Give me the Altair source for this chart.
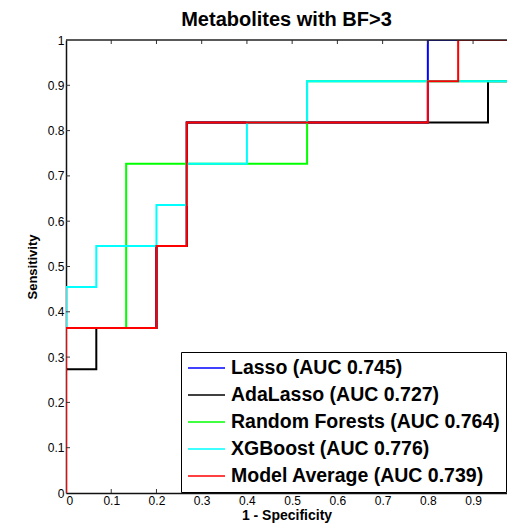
import altair as alt
import pandas as pd

chart_title = "Metabolites with BF>3"
x_title = "1 - Specificity"
y_title = "Sensitivity"

models = [
    "Lasso (AUC 0.745)",
    "AdaLasso (AUC 0.727)",
    "Random Forests (AUC 0.764)",
    "XGBoost (AUC 0.776)",
    "Model Average (AUC 0.739)",
]
colors = ["#0000FF", "#000000", "#00FF00", "#00FFFF", "#FF0000"]

lasso_fpr = [0, 0, 0.2, 0.2, 0.267, 0.267, 0.8, 0.8, 1.0]
lasso_tpr = [0, 0.364, 0.364, 0.545, 0.545, 0.818, 0.818, 1.0, 1.0]
ada_fpr = [0, 0, 0.067, 0.067, 0.2, 0.2, 0.267, 0.267, 0.933, 0.933, 1.0, 1.0]
ada_tpr = [0, 0.273, 0.273, 0.364, 0.364, 0.545, 0.545, 0.818, 0.818, 0.909, 0.909, 1.0]
rf_fpr = [0, 0, 0.133, 0.133, 0.533, 0.533, 1.0, 1.0]
rf_tpr = [0, 0.364, 0.364, 0.727, 0.727, 0.909, 0.909, 1.0]
xgb_fpr = [0, 0, 0.067, 0.067, 0.2, 0.2, 0.267, 0.267, 0.4, 0.4, 0.533, 0.533, 1.0, 1.0]
xgb_tpr = [0, 0.455, 0.455, 0.545, 0.545, 0.636, 0.636, 0.727, 0.727, 0.818, 0.818, 0.909, 0.909, 1.0]
avg_fpr = [0, 0, 0.2, 0.2, 0.267, 0.267, 0.8, 0.8, 0.867, 0.867, 1.0]
avg_tpr = [0, 0.364, 0.364, 0.545, 0.545, 0.818, 0.818, 0.909, 0.909, 1.0, 1.0]

x_ticks = [0, 0.1, 0.2, 0.3, 0.4, 0.5, 0.6, 0.7, 0.8, 0.9]
y_ticks = [0, 0.1, 0.2, 0.3, 0.4, 0.5, 0.6, 0.7, 0.8, 0.9, 1.0]
inner_ticks = [0.1, 0.2, 0.3, 0.4, 0.5, 0.6, 0.7, 0.8, 0.9]

series = [
    (models[0], lasso_fpr, lasso_tpr),
    (models[1], ada_fpr, ada_tpr),
    (models[2], rf_fpr, rf_tpr),
    (models[3], xgb_fpr, xgb_tpr),
    (models[4], avg_fpr, avg_tpr),
]
rows = []
for name, fx, fy in series:
    for i, (a, b) in enumerate(zip(fx, fy)):
        rows.append({"model": name, "fpr": a, "tpr": b, "idx": i})
df = pd.DataFrame(rows)
tick_df = pd.DataFrame({"fpr": inner_ticks, "tpr": inner_ticks})

# the reference crops the plot at the right edge of the picture
W, H = 441, 453
X_MAX = 0.975
FONT = "Liberation Sans"

xscale = alt.Scale(domain=[0, X_MAX], nice=False, zero=False)
yscale = alt.Scale(domain=[0, 1], nice=False, zero=False)
x_axis = alt.Axis(values=x_ticks, format="~g", title=x_title)
y_axis = alt.Axis(values=y_ticks, format="~g", title=y_title)
X = alt.X("fpr:Q", scale=xscale, axis=x_axis)
Y = alt.Y("tpr:Q", scale=yscale, axis=y_axis)

color = alt.Color(
    "model:N",
    scale=alt.Scale(domain=models, range=colors),
    legend=alt.Legend(
        title=None,
        orient="none",
        legendX=115,
        legendY=312,
        symbolType="stroke",
        symbolSize=1369,
        symbolStrokeWidth=1.5,
        labelFontSize=19.5,
        labelFont=FONT,
        labelFontWeight="bold",
        labelColor="black",
        fillColor="white",
        strokeColor="black",
        padding=6,
        rowPadding=7,
        clipHeight=20,
        labelOffset=5,
        labelLimit=0,
    ),
)

layers = []
for name in models:
    layer = (
        alt.Chart(df)
        .transform_filter(alt.datum.model == name)
        .mark_line(strokeWidth=2, clip=True)
        .encode(x=X, y=Y, color=color, order=alt.Order("idx:Q"))
    )
    layers.append(layer)

tick_color = "#333333"
bottom_ticks = alt.Chart(tick_df).mark_rule(color=tick_color, strokeWidth=1).encode(
    x=X, y=alt.value(H), y2=alt.value(H - 4))
top_ticks = alt.Chart(tick_df).mark_rule(color=tick_color, strokeWidth=1).encode(
    x=X, y=alt.value(0), y2=alt.value(4))
left_ticks = alt.Chart(tick_df).mark_rule(color=tick_color, strokeWidth=1).encode(
    y=Y, x=alt.value(0), x2=alt.value(4))
top_border = alt.Chart(pd.DataFrame({"b": [0]})).mark_rule(
    color="#222222", strokeWidth=1.5).encode(
    y=alt.value(0), x=alt.value(0), x2=alt.value(W))

chart = (
    alt.layer(*layers, bottom_ticks, top_ticks, left_ticks, top_border)
    .properties(
        width=W,
        height=H,
        title=alt.TitleParams(chart_title, fontSize=20, font=FONT, fontWeight="bold",
                              color="black", offset=4, anchor="middle", frame="group"),
        autosize=alt.AutoSizeParams(type="none"),
        padding={"left": 58, "top": 32, "right": 0, "bottom": 30},
    )
    .configure_view(stroke=None)
    .configure_axis(
        grid=False,
        ticks=False,
        domainColor="#111111",
        domainWidth=1.5,
        labelFont=FONT,
        labelFontSize=12,
        labelColor="black",
        labelPadding=2,
        titleFont=FONT,
        titleFontWeight="bold",
        titleColor="black",
    )
    .configure_axisX(titleFontSize=14, titleY=26, titleBaseline="alphabetic")
    .configure_axisY(titleFontSize=13, titlePadding=8)
)

chart.save("out.html", embed_options={"renderer": "svg", "actions": False})
